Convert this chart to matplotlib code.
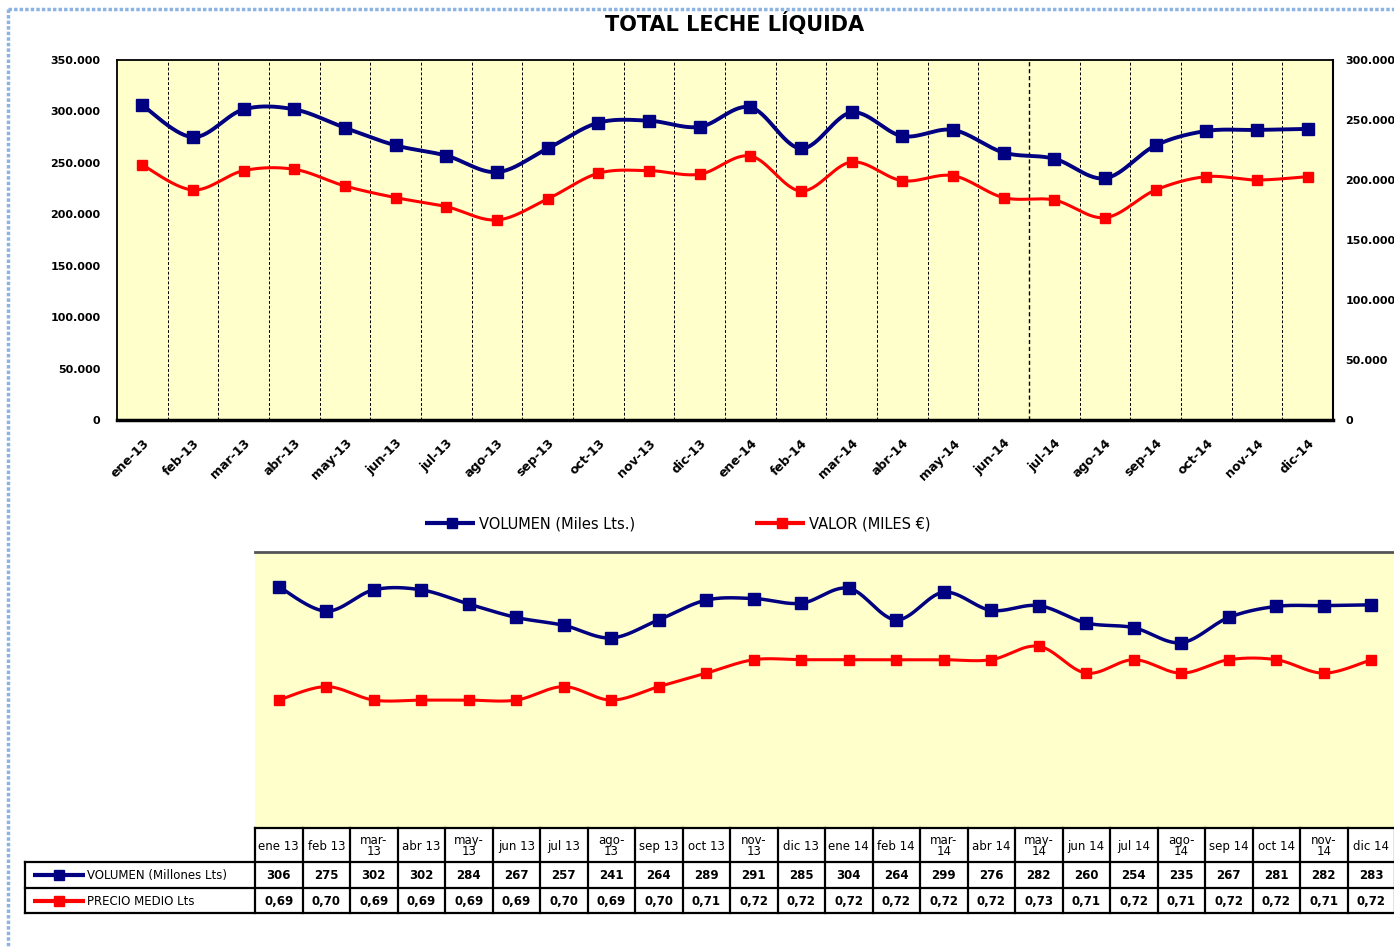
import numpy as np
import matplotlib
matplotlib.use("Agg")
import matplotlib.pyplot as plt
from matplotlib.ticker import FuncFormatter, MultipleLocator

# ---- data -------------------------------------------------------------
meses = ["ene-13", "feb-13", "mar-13", "abr-13", "may-13", "jun-13",
         "jul-13", "ago-13", "sep-13", "oct-13", "nov-13", "dic-13",
         "ene-14", "feb-14", "mar-14", "abr-14", "may-14", "jun-14",
         "jul-14", "ago-14", "sep-14", "oct-14", "nov-14", "dic-14"]

cabecera_tabla = ["ene 13", "feb 13", "mar-\n13", "abr 13", "may-\n13", "jun 13",
                  "jul 13", "ago-\n13", "sep 13", "oct 13", "nov-\n13", "dic 13",
                  "ene 14", "feb 14", "mar-\n14", "abr 14", "may-\n14", "jun 14",
                  "jul 14", "ago-\n14", "sep 14", "oct 14", "nov-\n14", "dic 14"]

# volumen en millones de litros
volumen_millones = [306, 275, 302, 302, 284, 267, 257, 241, 264, 289, 291, 285,
                    304, 264, 299, 276, 282, 260, 254, 235, 267, 281, 282, 283]

# valor en miles de euros
valor_miles = [212500, 191700, 207800, 208900, 195000, 185300, 177800, 166700,
               184200, 205600, 207800, 204800, 220000, 190800, 215000, 199400,
               203600, 185300, 183300, 168600, 191700, 202800, 200000, 202800]

# precio medio por litro
precio_medio = [0.69, 0.70, 0.69, 0.69, 0.69, 0.69, 0.70, 0.69, 0.70, 0.71, 0.72, 0.72,
                0.72, 0.72, 0.72, 0.72, 0.73, 0.71, 0.72, 0.71, 0.72, 0.72, 0.71, 0.72]

AZUL = "#000080"
ROJO = "#FF0000"
AMARILLO = "#FFFFCC"

W, H = 1394, 947


def rect(x0, y0, x1, y1):
    """Pixel box (top-left origin) -> figure fraction rectangle."""
    return [x0 / W, 1 - y1 / H, (x1 - x0) / W, (y1 - y0) / H]


def suavizar(y, n=30):
    """Smoothed curve through the points (cardinal Bezier, like spreadsheet smooth lines)."""
    y = np.asarray(y, float)
    x = np.arange(len(y), dtype=float)
    xs, ys = [], []
    last = len(y) - 1
    for i in range(last):
        a, d = max(i - 1, 0), min(i + 2, last)
        p0 = np.array([x[i], y[i]])
        p3 = np.array([x[i + 1], y[i + 1]])
        c1 = p0 + (p3 - np.array([x[a], y[a]])) / 6
        c2 = p3 - (np.array([x[d], y[d]]) - p0) / 6
        t = np.linspace(0, 1, n, endpoint=(i == last - 1))[:, None]
        b = ((1 - t) ** 3) * p0 + 3 * ((1 - t) ** 2) * t * c1 + 3 * (1 - t) * t ** 2 * c2 + t ** 3 * p3
        xs.append(b[:, 0])
        ys.append(b[:, 1])
    return np.concatenate(xs), np.concatenate(ys)


fmt_miles = FuncFormatter(lambda v, p: f"{int(round(v)):,}".replace(",", "."))

fig = plt.figure(figsize=(W / 100, H / 100), dpi=100)
fig.patch.set_facecolor("white")

fig.text(735 / W, 1 - 24 / H, "TOTAL LECHE LÍQUIDA", ha="center", va="center",
         fontsize=15, fontweight="bold")

# ---- upper chart --------------------------------------------------------
x = np.arange(len(meses))
ax = fig.add_axes(rect(117, 60, 1333, 420))
ax.set_facecolor(AMARILLO)
ax.set_xlim(-0.5, len(meses) - 0.5)
ax.set_ylim(0, 350000)
ax.yaxis.set_major_locator(MultipleLocator(50000))
ax.yaxis.set_major_formatter(fmt_miles)
ax.tick_params(axis="y", length=0, pad=12, labelsize=8)
for lab in ax.get_yticklabels():
    lab.set_fontweight("bold")
ax.set_xticks(x)
ax.set_xticklabels(meses, rotation=45, ha="right", va="top",
                   rotation_mode="anchor", fontsize=9, fontweight="bold")
ax.tick_params(axis="x", length=0, pad=12)

for k in np.arange(0.5, len(meses) - 1, 1.0):
    ax.axvline(k, color="black", lw=1.0 if k == 17.5 else 0.7,
               ls=(0, (3, 2)), zorder=1)

for s in ax.spines.values():
    s.set_linewidth(1.3)
ax.spines["bottom"].set_linewidth(2.5)

ax2 = ax.twinx()
ax2.set_ylim(0, 300000)
ax2.yaxis.set_major_locator(MultipleLocator(50000))
ax2.yaxis.set_major_formatter(fmt_miles)
ax2.tick_params(axis="y", length=0, pad=9, labelsize=8)
for lab in ax2.get_yticklabels():
    lab.set_fontweight("bold")
for s in ax2.spines.values():
    s.set_visible(False)
ax2.spines["right"].set_visible(True)
ax2.spines["right"].set_linewidth(1.5)

vol_miles = np.array(volumen_millones) * 1000
sx, sy = suavizar(vol_miles)
ax.plot(sx, sy, color=AZUL, lw=2.8, zorder=3)
ax.plot(x, vol_miles, ls="none", marker="s", ms=8.5, color=AZUL, zorder=4)

sx, sy = suavizar(valor_miles)
ax2.plot(sx, sy, color=ROJO, lw=2.2, zorder=3)
ax2.plot(x, valor_miles, ls="none", marker="s", ms=7.5, color=ROJO, zorder=4)

# ---- lower chart --------------------------------------------------------
col_w = 47.5
x_tab0 = 255
axb = fig.add_axes(rect(x_tab0, 552, x_tab0 + col_w * len(meses), 828))
axb.set_facecolor(AMARILLO)
axb.set_xlim(-0.5, len(meses) - 0.5)
axb.set_ylim(0, 350)
axb.set_xticks([])
axb.set_yticks([])
for nombre, s in axb.spines.items():
    s.set_visible(nombre == "top")
axb.spines["top"].set_color("#555555")
axb.spines["top"].set_linewidth(2)

axb2 = axb.twinx()
axb2.set_ylim(0.595, 0.80)
axb2.set_yticks([])
for s in axb2.spines.values():
    s.set_visible(False)

sx, sy = suavizar(volumen_millones)
axb.plot(sx, sy, color=AZUL, lw=2.5, zorder=3)
axb.plot(x, volumen_millones, ls="none", marker="s", ms=8, color=AZUL, zorder=4)

sx, sy = suavizar(precio_medio)
axb2.plot(sx, sy, color=ROJO, lw=2.2, zorder=3)
axb2.plot(x, precio_medio, ls="none", marker="s", ms=7.5, color=ROJO, zorder=4)

# ---- overlay: legend, data table, frame ---------------------------------
ov = fig.add_axes([0, 0, 1, 1], zorder=10)
ov.set_xlim(0, W)
ov.set_ylim(H, 0)
ov.axis("off")
ov.patch.set_alpha(0)

# legend of the upper chart
ov.plot([425, 475], [523, 523], color=AZUL, lw=3, solid_capstyle="butt")
ov.plot([452], [523], marker="s", ms=7, color=AZUL)
ov.text(479, 524, "VOLUMEN (Miles Lts.)", va="center", ha="left", fontsize=10.5)
ov.plot([755, 805], [523, 523], color=ROJO, lw=3, solid_capstyle="butt")
ov.plot([782], [523], marker="s", ms=7, color=ROJO)
ov.text(809, 524, "VALOR (MILES €)", va="center", ha="left", fontsize=10.5)

# data table
x_end = x_tab0 + col_w * len(meses)
lw_t = 1.6
for k in range(len(meses) + 1):
    xv = x_tab0 + col_w * k
    ov.plot([xv, xv], [828, 913], color="black", lw=lw_t)
ov.plot([x_tab0, x_end], [828, 828], color="black", lw=lw_t)
for yh in (862, 888, 913):
    ov.plot([25, x_end], [yh, yh], color="black", lw=lw_t)
ov.plot([25, 25], [862, 913], color="black", lw=lw_t)

for k in range(len(meses)):
    xc = x_tab0 + col_w * (k + 0.5)
    ov.text(xc, 846, cabecera_tabla[k], ha="center", va="center",
            fontsize=8.5, linespacing=0.8)
    ov.text(xc, 875, f"{volumen_millones[k]}", ha="center", va="center",
            fontsize=8.5, fontweight="bold")
    ov.text(xc, 901, f"{precio_medio[k]:.2f}".replace(".", ","), ha="center",
            va="center", fontsize=8.5, fontweight="bold")

ov.plot([33, 85], [875, 875], color=AZUL, lw=3, solid_capstyle="butt")
ov.plot([59], [875], marker="s", ms=6.5, color=AZUL)
ov.text(87, 875, "VOLUMEN (Millones Lts)", ha="left", va="center", fontsize=8.5)
ov.plot([33, 85], [901, 901], color=ROJO, lw=3, solid_capstyle="butt")
ov.plot([59], [901], marker="s", ms=6.5, color=ROJO)
ov.text(87, 901, "PRECIO MEDIO Lts", ha="left", va="center", fontsize=8.5)

# page frame
ov.plot([8, 8], [9, H], color="#8DB3E2", lw=2.5, ls=(0, (1, 0.6)))
ov.plot([8, W], [9, 9], color="#8DB3E2", lw=2.5, ls=(0, (1, 0.6)))

fig.savefig("out.png", dpi=100)
